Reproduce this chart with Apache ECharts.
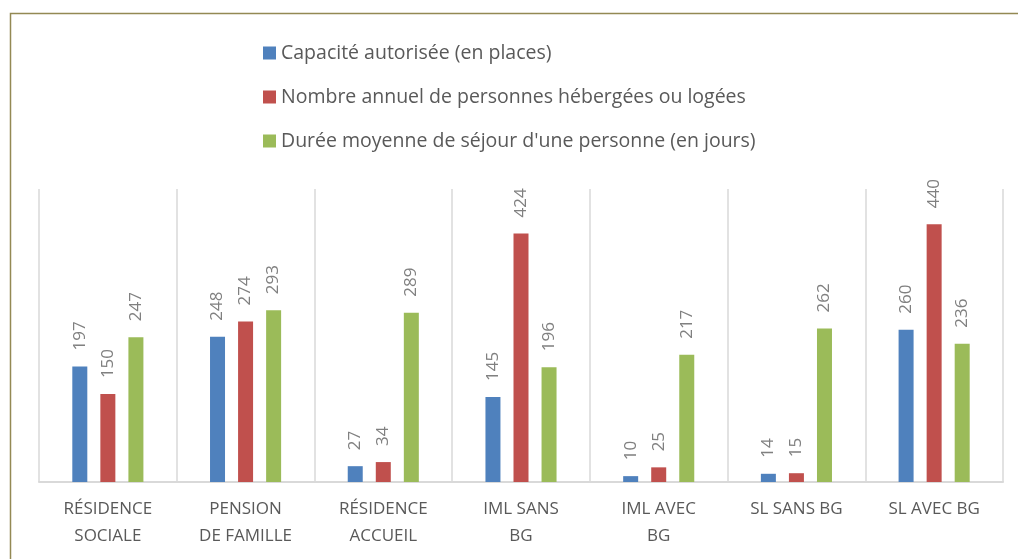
<!DOCTYPE html>
<html>
<head>
<meta charset="utf-8">
<script src="https://cdn.jsdelivr.net/npm/echarts@6/dist/echarts.min.js"></script>
<style>
  html, body { margin: 0; padding: 0; background: #fff; }
  #chart { width: 1018px; height: 559px; }
</style>
</head>
<body>
<div id="chart"></div>
<script>
// categories and series values
const categories = [
  'RÉSIDENCE\nSOCIALE',
  'PENSION\nDE FAMILLE',
  'RÉSIDENCE\nACCUEIL',
  'IML SANS\nBG',
  'IML AVEC\nBG',
  'SL SANS BG',
  'SL AVEC BG'
];
const capacite = [197, 248, 27, 145, 10, 14, 260];
const personnes = [150, 274, 34, 424, 25, 15, 440];
const duree = [247, 293, 289, 196, 217, 262, 236];

const seriesNames = [
  'Capacité autorisée (en places)',
  'Nombre annuel de personnes hébergées ou logées',
  "Durée moyenne de séjour d'une personne (en jours)"
];
const colors = ['#4f81bd', '#c0504d', '#9bbb59'];

const chart = echarts.init(document.getElementById('chart'));

const labelStyle = {
  show: true,
  position: 'top',
  rotate: 90,
  align: 'left',
  verticalAlign: 'middle',
  distance: 16,
  color: '#808080',
  fontSize: 17,
  fontFamily: 'Open Sans'
};

function makeBar(name, data, color) {
  return {
    name: name,
    type: 'bar',
    data: data,
    barWidth: 15,
    barGap: '87%',
    itemStyle: { color: color },
    label: labelStyle
  };
}

const option = {
  animation: false,
  textStyle: { fontFamily: 'Open Sans' },
  color: colors,
  graphic: [
    {
      type: 'rect',
      shape: { x: 10.5, y: 13.5, width: 1100, height: 700 },
      style: { fill: 'none', stroke: '#938953', lineWidth: 1.5 },
      silent: true
    }
  ],
  legend: {
    orient: 'vertical',
    left: 258,
    top: 36,
    icon: 'rect',
    itemWidth: 13,
    itemHeight: 13,
    itemGap: 20,
    textStyle: { color: '#595959', fontSize: 19.5, lineHeight: 24, fontFamily: 'Open Sans' },
    data: seriesNames
  },
  grid: {
    left: 39,
    right: 15,
    top: 189,
    bottom: 77,
    containLabel: false
  },
  xAxis: {
    type: 'category',
    data: categories,
    axisTick: { show: false },
    axisLine: { lineStyle: { color: '#d9d9d9', width: 2 } },
    splitLine: { show: true, lineStyle: { color: '#d9d9d9', width: 1.5 } },
    axisLabel: {
      interval: 0,
      color: '#595959',
      fontSize: 17,
      lineHeight: 27,
      margin: 14,
      fontFamily: 'Open Sans'
    }
  },
  yAxis: {
    type: 'value',
    min: 0,
    max: 500,
    show: false,
    splitLine: { show: false }
  },
  series: [
    makeBar(seriesNames[0], capacite, colors[0]),
    makeBar(seriesNames[1], personnes, colors[1]),
    makeBar(seriesNames[2], duree, colors[2])
  ]
};

chart.setOption(option);
</script>
</body>
</html>
